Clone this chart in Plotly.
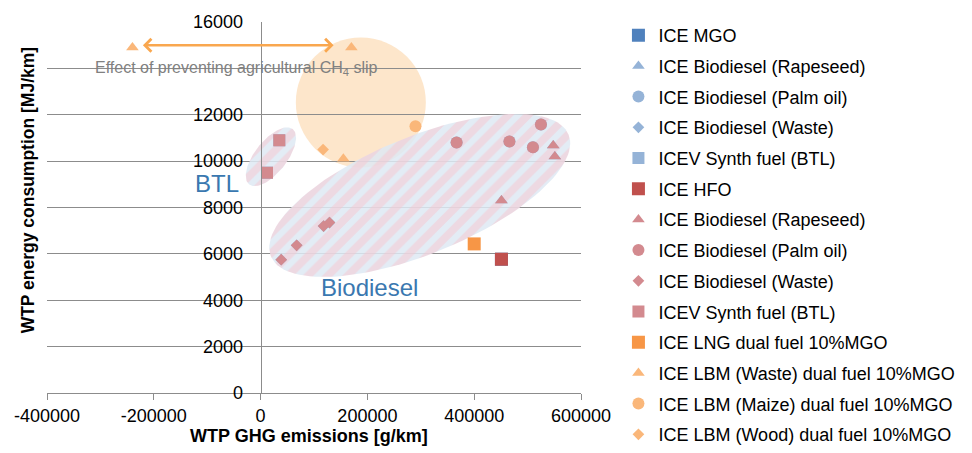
import numpy as np
import plotly.graph_objects as go

# ---------------- data ----------------
series_names = [
    "ICE MGO",
    "ICE Biodiesel (Rapeseed)",
    "ICE Biodiesel (Palm oil)",
    "ICE Biodiesel (Waste)",
    "ICEV Synth fuel (BTL)",
    "ICE HFO",
    "ICE Biodiesel (Rapeseed)",
    "ICE Biodiesel (Palm oil)",
    "ICE Biodiesel (Waste)",
    "ICEV Synth fuel (BTL)",
    "ICE LNG dual fuel 10%MGO",
    "ICE LBM (Waste) dual fuel 10%MGO",
    "ICE LBM (Maize) dual fuel 10%MGO",
    "ICE LBM (Wood) dual fuel 10%MGO",
]

mgo_x = [451000]
mgo_y = [5770]

b_rape_x = [451000, 548000, 551000]
b_rape_y = [8300, 10670, 10200]
b_palm_x = [367000, 466000, 510000, 525000]
b_palm_y = [10800, 10850, 10600, 11580]
b_waste_x = [38600, 67500, 118000, 129000]
b_waste_y = [5750, 6370, 7200, 7350]
b_btl_x = [35000, 12000]
b_btl_y = [10900, 9500]

hfo_x = [451000]
hfo_y = [5770]

r_rape_x = [451000, 548000, 551000]
r_rape_y = [8300, 10670, 10200]
r_palm_x = [367000, 466000, 510000, 525000]
r_palm_y = [10800, 10850, 10600, 11580]
r_waste_x = [38600, 67500, 118000, 129000]
r_waste_y = [5750, 6370, 7200, 7350]
r_btl_x = [35000, 12000]
r_btl_y = [10900, 9500]

lng_x = [400000]
lng_y = [6430]

lbm_waste_x = [-240000, 170000, 155000]
lbm_waste_y = [14900, 14900, 10100]
lbm_maize_x = [290000]
lbm_maize_y = [11500]
lbm_wood_x = [117000]
lbm_wood_y = [10500]

x_ticks = [-400000, -200000, 0, 200000, 400000, 600000]
x_ticktext = ["-400000", "-200000", "0", "200000", "400000", "600000"]
y_ticks = [0, 2000, 4000, 6000, 8000, 10000, 12000, 14000, 16000]
y_ticktext = ["0", "2000", "4000", "6000", "8000", "10000", "12000", "", "16000"]

# ---------------- layout geometry ----------------
W, H = 972, 453
ML, MR, MT, MB = 47, 383, 20, 60
X_RANGE = [-400000, 600000]
Y_RANGE = [0, 16000]
plot_w = W - ML - MR
plot_h = H - MT - MB
ux = (X_RANGE[1] - X_RANGE[0]) / plot_w   # data units per pixel (x)
uy = (Y_RANGE[1] - Y_RANGE[0]) / plot_h   # data units per pixel (y)


def ellipse(cx, cy, a_px, b_px, ang_deg, n=120):
    t = np.linspace(0, 2 * np.pi, n)
    th = np.deg2rad(ang_deg)
    px = a_px * np.cos(t) * np.cos(th) - b_px * np.sin(t) * np.sin(th)
    py = a_px * np.cos(t) * np.sin(th) + b_px * np.sin(t) * np.cos(th)
    return cx + px * ux, cy + py * uy


FONT = "Liberation Sans, Arial, sans-serif"
BLUE = "#4F81BD"
BLUE_T = "#95B3D7"
RED = "#C0504D"
RED_T = "#D38A8F"
ORANGE = "#F79646"
ORANGE_T = "#FAB77A"

fig = go.Figure()

stripe = dict(shape="/", fgcolor="rgba(248,192,201,0.9)",
              bgcolor="rgba(222,233,243,0.85)", size=14, solidity=0.55)

for (cx, cy, a, b, ang) in [(298000, 8520, 163, 59, 22), (19300, 10190, 35.5, 16.2, 51.4)]:
    ex, ey = ellipse(cx, cy, a, b, ang)
    fig.add_trace(go.Scatter(x=ex, y=ey, mode="lines", line=dict(width=0),
                             fill="toself", fillcolor="rgba(222,233,243,0.85)",
                             fillpattern=stripe, showlegend=False, hoverinfo="skip"))

specs = [
    (mgo_x, mgo_y, "square", 13, BLUE),
    (b_rape_x, b_rape_y, "triangle-up", 11, BLUE_T),
    (b_palm_x, b_palm_y, "circle", 12, BLUE_T),
    (b_waste_x, b_waste_y, "diamond", 9, BLUE_T),
    (b_btl_x, b_btl_y, "square", 12, BLUE_T),
    (hfo_x, hfo_y, "square", 13, RED),
    (r_rape_x, r_rape_y, "triangle-up", 11, RED_T),
    (r_palm_x, r_palm_y, "circle", 12, RED_T),
    (r_waste_x, r_waste_y, "diamond", 9, RED_T),
    (r_btl_x, r_btl_y, "square", 12, RED_T),
    (lng_x, lng_y, "square", 13, ORANGE),
    (lbm_waste_x, lbm_waste_y, "triangle-up", 11, ORANGE_T),
    (lbm_maize_x, lbm_maize_y, "circle", 12, ORANGE_T),
    (lbm_wood_x, lbm_wood_y, "diamond", 9, ORANGE_T),
]

for i, (xs, ys, sym, sz, col) in enumerate(specs):
    fig.add_trace(go.Scatter(x=xs, y=ys, mode="markers", name=series_names[i],
                             legendgroup="g%d" % i,
                             marker=dict(symbol=sym, size=sz, color=col, line=dict(width=0))))

# LBM circle region
fig.add_shape(type="circle", xref="x", yref="y", layer="below",
              xsizemode="pixel", ysizemode="pixel",
              xanchor=187700, yanchor=12530, x0=-65, x1=65, y0=-65, y1=65,
              fillcolor="#FDE6CB", line=dict(width=0))

annotations = [
    dict(x=136700, y=15000, ax=-223200, ay=15000, xref="x", yref="y",
         axref="x", ayref="y", text="", showarrow=True, arrowhead=4,
         startarrowhead=4, arrowside="end+start", arrowwidth=2.5,
         arrowsize=1, startarrowsize=1, arrowcolor="#F9A74F", standoff=0, startstandoff=0),
    dict(x=-45000, y=14000, xref="x", yref="y", showarrow=False,
         text="Effect of preventing agricultural CH<sub>4</sub> slip",
         font=dict(family=FONT, size=16, color="#808080")),
    dict(x=-36800, y=9050, xref="x", yref="y", showarrow=False, text="BTL",
         xanchor="right", yanchor="middle", font=dict(family=FONT, size=24, color="#3A78B0")),
    dict(x=204300, y=4535, xref="x", yref="y", showarrow=False, text="Biodiesel",
         xanchor="center", yanchor="middle", font=dict(family=FONT, size=24, color="#3A78B0")),
    dict(x=(313 - ML) / plot_w, y=(MT + plot_h - 436) / plot_h, xref="paper", yref="paper",
         xanchor="center", yanchor="middle",
         showarrow=False, text="<b>WTP GHG emissions [g/km]</b>",
         font=dict(family=FONT, size=18, color="#000")),
    dict(x=(28 - ML) / plot_w, y=(MT + plot_h - 189) / plot_h, xref="paper", yref="paper",
         xanchor="center", yanchor="middle",
         showarrow=False, textangle=-90, text="<b>WTP energy consumption [MJ/km]</b>",
         font=dict(family=FONT, size=17.5, color="#000")),
]

fig.update_layout(
    width=W, height=H,
    margin=dict(l=ML, r=MR, t=MT, b=MB),
    paper_bgcolor="white", plot_bgcolor="white",
    font=dict(family=FONT, size=18, color="#000"),
    showlegend=True,
    legend=dict(x=(627 - ML) / plot_w, y=1.0096, xanchor="left", yanchor="top",
                font=dict(family=FONT, size=18, color="#000"),
                tracegroupgap=4.3, traceorder="grouped", itemwidth=30,
                maxheight=445,
                bgcolor="rgba(0,0,0,0)"),
    xaxis=dict(range=X_RANGE, tickvals=x_ticks, ticktext=x_ticktext,
               showgrid=False, zeroline=False, showline=True, linecolor="#8C8C8C",
               linewidth=1, ticks="outside", ticklen=6, tickcolor="#8C8C8C",
               tickfont=dict(family=FONT, size=18, color="#000")),
    yaxis=dict(range=Y_RANGE, tickvals=y_ticks, ticktext=y_ticktext,
               showgrid=True, gridcolor="#8C8C8C", gridwidth=1, zeroline=False,
               anchor="free", position=0.4, showline=True, linecolor="#8C8C8C",
               ticks="", ticklabelstandoff=14,
               tickfont=dict(family=FONT, size=18, color="#000")),
    annotations=annotations,
)

fig.write_html("out.html")
